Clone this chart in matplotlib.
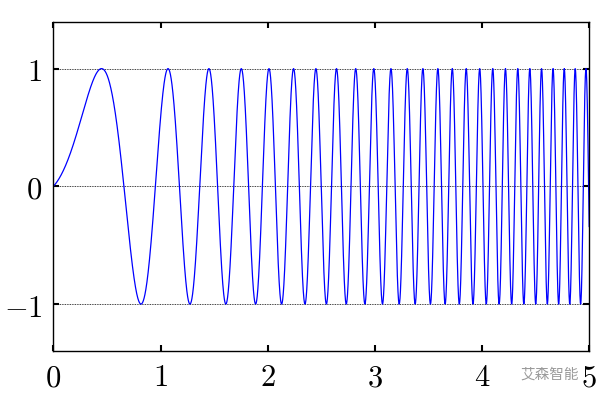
import matplotlib
matplotlib.use("Agg")
import matplotlib.pyplot as plt
import numpy as np

plt.rcParams['mathtext.fontset'] = 'cm'

# points on the first rising flank (x, y)
rise_x = [0.090, 0.210, 0.322]
rise_y = [0.170, 0.435, 0.746]
# x positions of the maxima (y = 1)
peaks_x = [0.450, 1.066, 1.450, 1.755, 2.010, 2.244, 2.449, 2.642, 2.822, 2.990,
           3.151, 3.307, 3.447, 3.590, 3.723, 3.850, 3.978, 4.100, 4.218, 4.330,
           4.445, 4.554, 4.662, 4.764, 4.867, 4.973]
# x positions of the minima (y = -1)
troughs_x = [0.813, 1.273, 1.606, 1.886, 2.129, 2.346, 2.545, 2.731, 2.906, 3.071,
             3.226, 3.375, 3.521, 3.659, 3.789, 3.916, 4.041, 4.159, 4.274, 4.389,
             4.501, 4.610, 4.716, 4.818, 4.924]

xticks = [0, 1, 2, 3, 4, 5]
yticks = [-1, 0, 1]


def basis(x):
    # smooth terms for the phase, all zero at x = 0
    return np.column_stack([x, x ** 2, x ** 3, x * np.exp(-4 * x)])


# phase of the oscillation at each read point, smoothed by a least squares fit
knots_x = np.array(rise_x + peaks_x + troughs_x)
knots_ph = np.array(list(np.arcsin(rise_y))
                    + [np.pi / 2 + 2 * np.pi * k for k in range(len(peaks_x))]
                    + [3 * np.pi / 2 + 2 * np.pi * k for k in range(len(troughs_x))])
w = np.where(knots_x < 0.5, 4.0, 1.0)
A = basis(knots_x)
c, *_ = np.linalg.lstsq(A * w[:, None], knots_ph * w, rcond=None)

xs = np.linspace(0, 5, 4000)
ys = np.sin(basis(xs) @ c)

fig = plt.figure(figsize=(6, 4.02), dpi=100)
ax = fig.add_axes([0.089, 0.124, 0.893, 0.82])
ax.plot(xs, ys, color='#0000ff', lw=0.9)

ax.set_xlim(0, 5)
ax.set_ylim(-1.4, 1.4)
ax.set_xticks(xticks)
ax.set_yticks(yticks)
ax.set_xticklabels(['$%d$' % t for t in xticks])
ax.set_yticklabels(['$%d$' % t for t in yticks])
ax.tick_params(direction='in', top=True, right=True, length=4, width=1.5,
               labelsize=22, pad=8)
ax.yaxis.grid(True, linestyle=(0, (1, 1)), color='black', lw=0.6)
for s in ax.spines.values():
    s.set_linewidth(1.0)

# watermark
fig.text(0.868, 0.068, '艾森智能', fontsize=10.5, color='#9a9a9a',
         family=['Noto Sans CJK SC', 'DejaVu Sans'], ha='left', va='center')

fig.savefig('out.png', dpi=100)
